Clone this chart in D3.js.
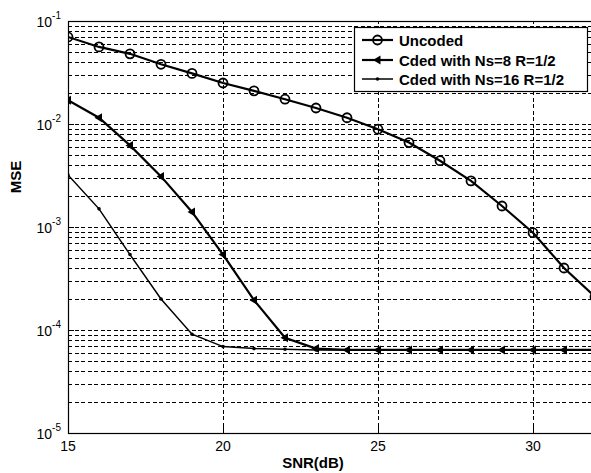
<!DOCTYPE html>
<html>
<head>
<meta charset="utf-8">
<script src="https://cdn.jsdelivr.net/npm/d3@7"></script>
<style>
  body { margin: 0; background: #fff; }
  text { font-family: Arial, "Liberation Sans", Helvetica, sans-serif; }
</style>
</head>
<body>
<div id="chart"></div>
<script>
// data
var snr = [15,16,17,18,19,20,21,22,23,24,25,26,27,28,29,30,31,32];
var uncoded = [0.070,0.056,0.048,0.038,0.031,0.025,0.021,0.0174,0.0143,0.0115,0.0089,0.0066,0.0044,0.0028,0.0016,0.00088,0.0004,0.00021];
var ns8 = [0.017,0.0115,0.0062,0.0031,0.0014,0.00054,0.000195,0.000084,0.000066,0.000064,0.000064,0.000064,0.000064,0.000064,0.000064,0.000064,0.000064,0.000064];
var ns16 = [0.0032,0.0015,0.00054,0.0002,0.000091,0.000069,0.000066,0.000065,0.000064,0.000064,0.000064,0.000064,0.000064,0.000064,0.000064,0.000064,0.000064,0.000064];
var xTicks = [15,20,25,30];
var yTicks = [1e-5,1e-4,1e-3,1e-2,1e-1];
var legendLabels = ["Uncoded","Cded with Ns=8 R=1/2","Cded with Ns=16 R=1/2"];

var width = 591, height = 473;
var margin = {top: 21, left: 68, bottom: 40, right: -4};

var svg = d3.select('#chart').append('svg')
  .attr('width', width).attr('height', height);

var x = d3.scaleLinear().domain([15, 32]).range([margin.left, width - margin.right]);
var y = d3.scaleLog().domain([1e-5, 1e-1]).range([height - margin.bottom, margin.top]);

var plotW = x(32) - x(15);
var y0 = y(1e-5), y1 = y(1e-1);

// minor values for grid
var minor = [];
for (var e = -5; e < -1; e++) {
  for (var m = 2; m <= 9; m++) minor.push(m * Math.pow(10, e));
}

var grid = svg.append('g').attr('stroke', '#000').attr('stroke-width', 1)
  .attr('stroke-dasharray', '4,2.5').attr('shape-rendering', 'crispEdges');
grid.selectAll('.hg').data(minor.concat(yTicks)).enter().append('line')
  .attr('x1', x(15)).attr('x2', x(32))
  .attr('y1', function(d){ return Math.round(y(d)) + 0.5; })
  .attr('y2', function(d){ return Math.round(y(d)) + 0.5; });
grid.selectAll('.vg').data(xTicks).enter().append('line')
  .attr('y1', y0).attr('y2', y1)
  .attr('x1', function(d){ return Math.round(x(d)) + 0.5; })
  .attr('x2', function(d){ return Math.round(x(d)) + 0.5; });

// box
svg.append('rect').attr('x', x(15) + 0.5).attr('y', y1 + 0.5)
  .attr('width', plotW).attr('height', y0 - y1)
  .attr('fill', 'none').attr('stroke', '#000').attr('stroke-width', 1.2);

// left ticks (inside)
var ticks = svg.append('g').attr('stroke', '#000').attr('stroke-width', 1);
ticks.selectAll('.mt').data(minor).enter().append('line')
  .attr('x1', x(15)).attr('x2', x(15) + 3)
  .attr('y1', function(d){ return Math.round(y(d)) + 0.5; })
  .attr('y2', function(d){ return Math.round(y(d)) + 0.5; });
ticks.selectAll('.Mt').data(yTicks).enter().append('line')
  .attr('x1', x(15)).attr('x2', x(15) + 6)
  .attr('y1', function(d){ return Math.round(y(d)) + 0.5; })
  .attr('y2', function(d){ return Math.round(y(d)) + 0.5; });
ticks.selectAll('.xt').data(xTicks).enter().append('line')
  .attr('y1', y0).attr('y2', y0 - 6)
  .attr('x1', function(d){ return Math.round(x(d)) + 0.5; })
  .attr('x2', function(d){ return Math.round(x(d)) + 0.5; });

// tick labels
svg.selectAll('.xl').data(xTicks).enter().append('text')
  .attr('x', function(d){ return x(d); }).attr('y', y0 + 18)
  .attr('text-anchor', 'middle').attr('font-size', 14).text(function(d){ return d; });

var yl = svg.selectAll('.yl').data(yTicks).enter().append('text')
  .attr('x', 61).attr('y', function(d){ return y(d) + 6; })
  .attr('text-anchor', 'end').attr('font-size', 14);
yl.append('tspan').text('10');
yl.append('tspan').attr('dy', -8).attr('font-size', 10)
  .text(function(d){ return '-' + Math.round(-Math.log10(d)); });

// axis titles
svg.append('text').attr('x', 313).attr('y', 468).attr('text-anchor', 'middle')
  .attr('font-size', 15).attr('font-weight', 'bold').text('SNR(dB)');
svg.append('text').attr('transform', 'translate(21,177) rotate(-90)')
  .attr('text-anchor', 'middle').attr('font-size', 15).attr('font-weight', 'bold').text('MSE');

// lines
var clip = svg.append('clipPath').attr('id', 'clip').append('rect')
  .attr('x', x(15)).attr('y', y1).attr('width', plotW).attr('height', y0 - y1);
var plot = svg.append('g').attr('clip-path', 'url(#clip)');

function pts(vals) { return snr.map(function(s, i){ return [s, vals[i]]; }); }
var line = d3.line().x(function(d){ return x(d[0]); }).y(function(d){ return y(d[1]); });

var series = [
  {vals: ns16, w: 1.5, marker: 'dot'},
  {vals: ns8, w: 2.2, marker: 'tri'},
  {vals: uncoded, w: 2.2, marker: 'circle'}
];
var tri = 'M-4.5,0L3,-4.5L3,4.5Z';

series.forEach(function(s) {
  var p = pts(s.vals);
  plot.append('path').datum(p).attr('d', line)
    .attr('fill', 'none').attr('stroke', '#000').attr('stroke-width', s.w);
  var g = plot.selectAll(null).data(p).enter().append('g')
    .attr('transform', function(d){ return 'translate(' + x(d[0]) + ',' + y(d[1]) + ')'; });
  drawMarker(g, s.marker);
});

function drawMarker(g, type) {
  if (type === 'circle') {
    g.append('circle').attr('r', 4.5).attr('fill', 'none').attr('stroke', '#000').attr('stroke-width', 1.8);
  } else if (type === 'tri') {
    g.append('path').attr('d', tri).attr('fill', '#000');
  } else {
    g.append('circle').attr('r', 1.8).attr('fill', '#000');
  }
}

// legend
var lg = svg.append('g');
lg.append('rect').attr('x', 354.5).attr('y', 27.5).attr('width', 233).attr('height', 64)
  .attr('fill', '#fff').attr('stroke', '#000').attr('stroke-width', 1.2);
var legendY = [40, 60, 79];
legendLabels.forEach(function(lbl, i) {
  var s = series[2 - i];
  lg.append('line').attr('x1', 362).attr('x2', 393).attr('y1', legendY[i]).attr('y2', legendY[i])
    .attr('stroke', '#000').attr('stroke-width', s.w);
  var m = lg.append('g').attr('transform', 'translate(377.5,' + legendY[i] + ')');
  drawMarker(m, s.marker);
  lg.append('text').attr('x', 399).attr('y', legendY[i] + 5.5)
    .attr('font-size', 15).attr('font-weight', 'bold').text(lbl);
});
</script>
</body>
</html>
